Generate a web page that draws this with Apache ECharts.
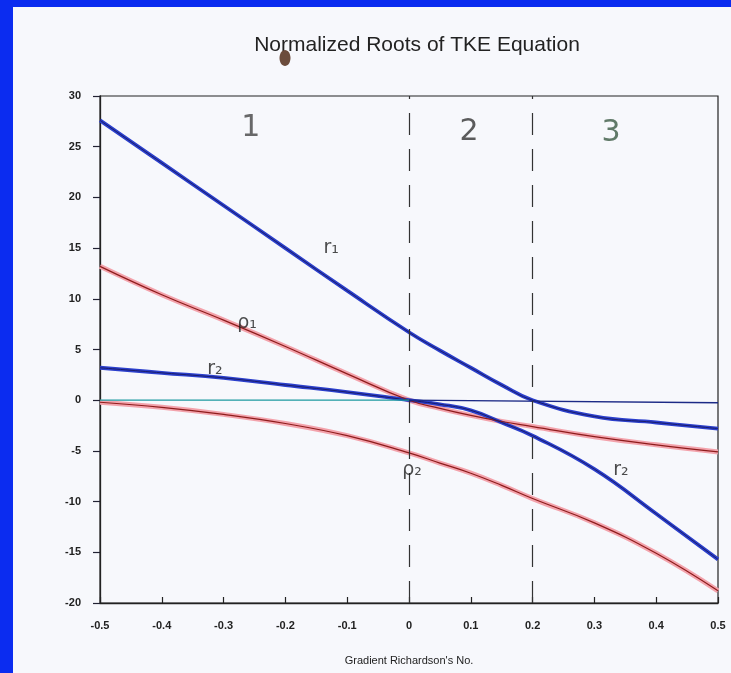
<!DOCTYPE html>
<html>
<head>
<meta charset="utf-8">
<script src="https://cdn.jsdelivr.net/npm/echarts@6/dist/echarts.min.js"></script>
<style>
html,body{margin:0;padding:0;background:#0b2cf0;}
#chart{width:731px;height:673px;}
</style>
</head>
<body>
<div id="chart"></div>
<script>
// ---- data ----
var xs   = [-0.5, -0.4, -0.3, -0.2, -0.1, 0, 0.05, 0.1, 0.15, 0.2, 0.3, 0.4, 0.5];
var r1   = [27.6, 23.4, 19.2, 15.0, 10.8, 6.7, 4.9, 3.2, 1.5, 0.0, -1.6, -2.2, -2.8];
var rho1 = [13.2, 10.4, 7.9, 5.3, 2.6, 0.0, -0.8, -1.5, -2.1, -2.6, -3.6, -4.4, -5.1];
var r2   = [3.2, 2.7, 2.2, 1.5, 0.8, 0.0, -0.4, -1.0, -2.2, -3.5, -6.8, -11.2, -15.7];
var rho2 = [-0.2, -0.7, -1.4, -2.3, -3.5, -5.2, -6.2, -7.2, -8.4, -9.7, -12.1, -15.1, -18.8];
var zeroLeftX = [-0.5, 0];   var zeroLeftY = [0, 0];
var zeroRightX = [0, 0.5];   var zeroRightY = [0, -0.25];
var dividers = [0, 0.2];
var xTickLabels = ['-0.5','-0.4','-0.3','-0.2','-0.1','0','0.1','0.2','0.3','0.4','0.5'];
var yTickLabels = ['-20','-15','-10','-5','0','5','10','15','20','25','30'];
var regionLabels = [[-0.256, 26.8, '1'], [0.097, 26.4, '2'], [0.327, 26.3, '3']];
var curveLabels = [[-0.126, 15.0, 'r\u2081'], [-0.262, 7.6, '\u03c1\u2081'], [-0.314, 3.1, 'r\u2082'],
                   [0.005, -6.9, '\u03c1\u2082'], [0.343, -6.9, 'r\u2082']];

function pairs(x, y){ return x.map(function(v,i){ return [v, y[i]]; }); }

function curve(name, ys, halo, haloW, core, coreW){
  return [
    {name: name+'-halo', type:'line', data: pairs(xs, ys), smooth:0.45, showSymbol:false,
     lineStyle:{color:halo, width:haloW}, z:2, silent:true},
    {name: name, type:'line', data: pairs(xs, ys), smooth:0.45, showSymbol:false,
     lineStyle:{color:core, width:coreW}, z:3, silent:true}
  ];
}

var BLUE='#2b3fcc', BLUEC='#1a1d6a', PINK='#f3a3ac', REDC='#8e1c1c';
var regionColors = ['#444', '#333', '#3b5a44'];

var series = [];
series = series.concat(curve('rho1', rho1, PINK, 5, REDC, 1.2));
series = series.concat(curve('rho2', rho2, PINK, 5, REDC, 1.2));
series = series.concat(curve('r1', r1, BLUE, 3.8, BLUEC, 1));
series = series.concat(curve('r2', r2, BLUE, 3.8, BLUEC, 1));
series.push({type:'line', data:pairs(zeroLeftX, zeroLeftY), showSymbol:false,
  lineStyle:{color:'#1d9aa0', width:1.2}, z:4, silent:true});
series.push({type:'line', data:pairs(zeroRightX, zeroRightY), showSymbol:false,
  lineStyle:{color:'#1c2a86', width:1.3}, z:4, silent:true,
  markLine:{symbol:'none', silent:true, label:{show:false},
    lineStyle:{type:[22,14], color:'#333', width:1.2},
    data: dividers.map(function(d){ return {xAxis:d}; })}});
series.push({type:'scatter', data: regionLabels.map(function(a,i){
    return {value:[a[0],a[1]], name:a[2], label:{color:regionColors[i]}};}),
  symbolSize:0, silent:true, z:6,
  label:{show:true, position:'inside', formatter:'{b}', fontFamily:'DejaVu Sans',
    fontSize:30, color:'#444'}});
series.push({type:'scatter', data: curveLabels.map(function(a){return {value:[a[0],a[1]], name:a[2]};}),
  symbolSize:0, silent:true, z:6,
  label:{show:true, position:'inside', formatter:'{b}', fontFamily:'DejaVu Sans',
    fontSize:19, color:'#1e1e1e'}});

var chart = echarts.init(document.getElementById('chart'), null, {renderer:'canvas'});
chart.setOption({
  backgroundColor:'#0b2cf0',
  animation:false,
  title:{text:'Normalized Roots of TKE Equation', left:412, top:30, textAlign:'center',
    textStyle:{fontFamily:'Liberation Sans', fontWeight:'normal', fontSize:21, color:'#222'}},
  graphic:[
    {type:'rect', shape:{x:13, y:7, width:718, height:666}, style:{fill:'#f7f8fc'}, z:-10, silent:true},
    {type:'ellipse', shape:{cx:285, cy:58, rx:5.5, ry:8}, style:{fill:'#6b4c3c'}, z:10, silent:true}
  ],
  grid:{left:100, right:13, top:96, bottom:70, show:true, borderColor:'#222', borderWidth:1.2,
    backgroundColor:'transparent'},
  xAxis:{type:'value', min:-0.5, max:0.5, interval:0.1,
    name:"Gradient Richardson's No.", nameLocation:'middle', nameGap:52,
    nameTextStyle:{fontFamily:'Liberation Sans', fontSize:11, color:'#222'},
    axisLine:{show:true, onZero:false, lineStyle:{color:'#222', width:1.3}},
    axisTick:{show:true, inside:true, length:6, lineStyle:{color:'#222', width:1.2}},
    axisLabel:{margin:17, fontFamily:'Liberation Sans', fontSize:11, color:'#222', fontWeight:'bold',
      formatter:function(v){ return xTickLabels[Math.round(v*10)+5]; }},
    splitLine:{show:false}},
  yAxis:{type:'value', min:-20, max:30, interval:5,
    axisLine:{show:true, onZero:false, lineStyle:{color:'#222', width:1.3}},
    axisTick:{show:true, inside:false, length:7, lineStyle:{color:'#223', width:1.2}},
    axisLabel:{margin:19, fontFamily:'Liberation Sans', fontSize:11, color:'#222', fontWeight:'bold',
      formatter:function(v){ return yTickLabels[Math.round((v+20)/5)]; }},
    splitLine:{show:false}},
  series:series
});
</script>
</body>
</html>
